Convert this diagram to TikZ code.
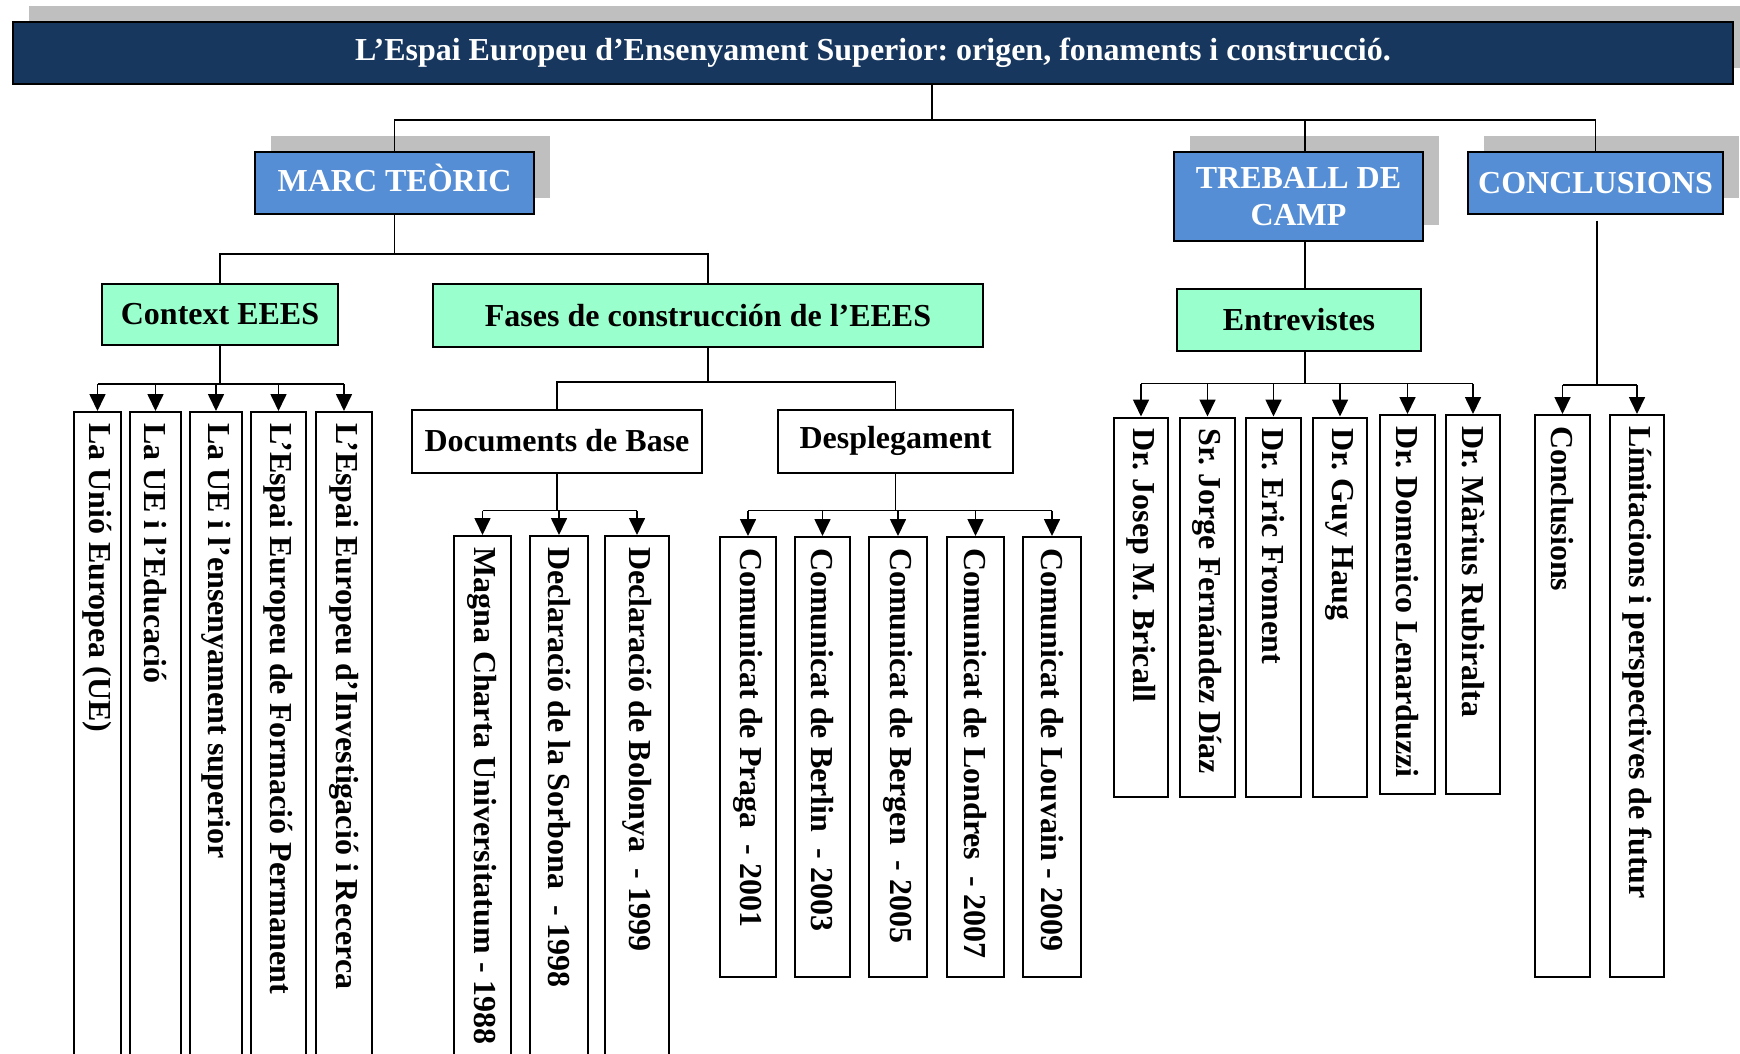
\documentclass[tikz,border=0pt]{standalone}
\usepackage{fontspec}
\setmainfont{Liberation Serif}
\usetikzlibrary{arrows.meta,shadows}

\definecolor{navy}{RGB}{23,55,94}
\definecolor{skyblue}{RGB}{85,142,213}
\definecolor{mint}{RGB}{153,255,204}
\definecolor{shade}{RGB}{191,191,191}

\tikzset{
  box/.style={draw=black, line width=2pt, rectangle, inner sep=0pt,
    font=\fontsize{32}{36}\selectfont\bfseries\frenchspacing, align=center},
  shadowed/.style={drop shadow={shadow xshift=16pt, shadow yshift=16pt,
    fill=shade, opacity=1}},
  titlebox/.style={box, fill=navy, text=white, shadowed},
  bluebox/.style={box, fill=skyblue, text=white, shadowed},
  greenbox/.style={box, fill=mint},
  whitebox/.style={box, fill=white},
  leaf/.style={box, fill=white, rotate=-90, anchor=west, inner xsep=11pt,
    inner ysep=0pt},
  conn/.style={line width=1.7pt},
  arr/.style={conn, -{Triangle[length=17pt,width=16pt]}}
}

% vertical text box: name, x of centre, y of top, length, width, text
\newcommand\leafbox[6]{%
  \node[leaf, minimum width=#4pt, minimum height=#5pt] (#1) at (#2,#3)
    {\makebox[\dimexpr#4pt-22pt\relax][l]{#6}};}

\begin{document}
\begin{tikzpicture}[x=1pt,y=-1pt]
\useasboundingbox (0,0) rectangle (1740,1054);
\clip (0,0) rectangle (1740,1054);
\fill[white] (0,0) rectangle (1740,1054);

% heading and the three main blocks
\node[titlebox, minimum width=1720pt, minimum height=62pt] (title) at (873,53)
  {L’Espai Europeu d’Ensenyament Superior: origen, fonaments i construcció.};
\node[bluebox, minimum width=279pt, minimum height=62pt, text height=21pt, text depth=4pt] (marc) at (394.5,183) {MARC TEÒRIC};
\node[bluebox, minimum width=249pt, minimum height=89pt,
  font=\fontsize{32}{37}\selectfont\bfseries] (treball) at (1298.5,196.5) {TREBALL DE\\CAMP};
\node[bluebox, minimum width=255pt, minimum height=62pt] (concl) at (1595.5,183) {CONCLUSIONS};

% second level
\node[greenbox, minimum width=236pt, minimum height=61pt] (context) at (220,314.5) {Context EEES};
\node[greenbox, minimum width=550pt, minimum height=63pt] (fases) at (708,315.5) {Fases de construcción de l’EEES};
\node[greenbox, minimum width=244pt, minimum height=62pt] (entrev) at (1299,319.5) {Entrevistes};

% third level
\node[whitebox, minimum width=290pt, minimum height=63pt] (docs) at (557,441) {Documents de Base};
\node[whitebox, minimum width=235pt, minimum height=63pt] (despl) at (895.5,441) {Desplegament};

% context leaves
\leafbox{c1}{97.5}{411}{669}{47}{La Unió Europea (UE)}
\leafbox{c2}{155.5}{411}{669}{51}{La UE i l’Educació}
\leafbox{c3}{216}{411}{669}{52}{La UE i l’ensenyament superior}
\leafbox{c4}{278.5}{411}{669}{55}{L’Espai Europeu de Formació Permanent}
\leafbox{c5}{344}{411}{669}{56}{L’Espai Europeu d’Investigació i Recerca}

% base documents
\leafbox{d1}{482.5}{535}{545}{57}{Magna Charta Universitatum - 1988}
\leafbox{d2}{559}{535}{545}{58.5}{Declaració de la Sorbona\ \ - 1998}
\leafbox{d3}{637}{535}{545}{64}{Declaració de Bolonya\ \ - 1999}

% communiqués
\leafbox{p1}{748}{536}{440}{55.5}{Comunicat de Praga\ \ - 2001}
\leafbox{p2}{822.5}{536}{440}{55}{Comunicat de Berlin\ \ - 2003}
\leafbox{p3}{898}{536}{440}{58}{Comunicat de Bergen\ \ - 2005}
\leafbox{p4}{975.5}{536}{440}{57}{Comunicat de Londres\ \ - 2007}
\leafbox{p5}{1052}{536}{440}{58}{Comunicat de Louvain - 2009}

% interviews
\leafbox{e1}{1141}{416.5}{379}{54}{Dr. Josep M. Bricall}
\leafbox{e2}{1207.5}{416.5}{379}{55}{Sr. Jorge Fernández Díaz}
\leafbox{e3}{1273.5}{416.5}{379}{55}{Dr. Eric Froment}
\leafbox{e4}{1340}{416.5}{379}{54}{Dr. Guy Haug}
\leafbox{e5}{1407.5}{414}{379}{55}{Dr. Domenico Lenarduzzi}
\leafbox{e6}{1473}{414}{379}{54}{Dr. Màrius Rubiralta}

% conclusions
\leafbox{k1}{1562.5}{414}{562}{55}{Conclusions}
\leafbox{k2}{1637}{414}{562}{54.5}{Límitacions i perspectives de futur}

% main trunk
\coordinate (tk) at (932,120);
\coordinate (tx) at (1305,0);
\draw[conn] (title.south -| tk) -- (tk);
\draw[conn] (marc.north) -- (marc.north |- tk) -- (concl.north |- tk) -- (concl.north);
\draw[conn] (treball.north -| tx) -- (tx |- tk);

% theoretical frame
\coordinate (mb) at (0,254);
\draw[conn] (marc.south) -- (marc.south |- mb);
\draw[conn] (context.north) -- (context.north |- mb) -- (fases.north |- mb) -- (fases.north);

\coordinate (cb) at (0,384);
\draw[conn] (context.south) -- (context.south |- cb);
\draw[conn] (c1.west |- cb) -- (c5.west |- cb);
\foreach \n in {c1,c2,c3,c4,c5} \draw[arr] (\n.west |- cb) -- (\n.west);

\coordinate (fb) at (0,382);
\draw[conn] (fases.south) -- (fases.south |- fb);
\draw[conn] (docs.north) -- (docs.north |- fb) -- (despl.north |- fb) -- (despl.north);

\coordinate (db) at (0,510.5);
\draw[conn] (docs.south) -- (docs.south |- db);
\draw[conn] (d1.west |- db) -- (d3.west |- db);
\foreach \n in {d1,d2,d3} \draw[arr] (\n.west |- db) -- (\n.west);

\draw[conn] (despl.south) -- (despl.south |- db);
\draw[conn] (p1.west |- db) -- (p5.west |- db);
\foreach \n in {p1,p2,p3,p4,p5} \draw[arr] (\n.west |- db) -- (\n.west);

% field work
\coordinate (eb) at (0,383.5);
\draw[conn] (treball.south -| tx) -- (entrev.north -| tx);
\draw[conn] (entrev.south -| tx) -- (tx |- eb);
\draw[conn] (e1.west |- eb) -- (e6.west |- eb);
\foreach \n in {e1,e2,e3,e4,e5,e6} \draw[arr] (\n.west |- eb) -- (\n.west);

% conclusions
\coordinate (kb) at (1597,385);
\draw[conn] (concl.south -| kb) ++(0,5.5) -- (kb);
\draw[conn] (k1.west |- kb) -- (k2.west |- kb);
\foreach \n in {k1,k2} \draw[arr] (\n.west |- kb) -- (\n.west);
\end{tikzpicture}
\end{document}
